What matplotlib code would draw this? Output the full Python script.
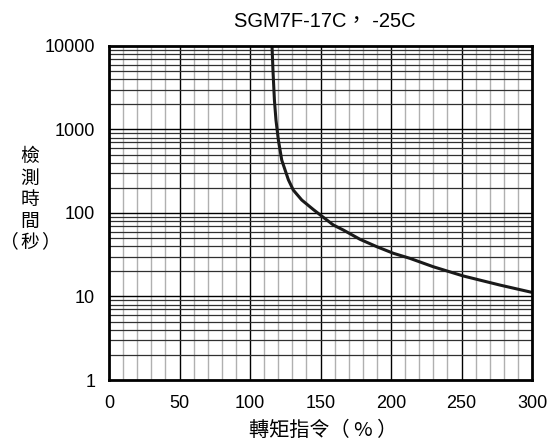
import matplotlib.pyplot as plt
from matplotlib.ticker import FixedLocator, LogLocator, NullFormatter

plt.rcParams['font.family'] = ['Liberation Sans', 'Noto Sans CJK TC', 'DejaVu Sans']
CJK = ['Noto Sans CJK TC', 'Liberation Sans']

# torque command (%) vs detection time (s)
torque = [115.6, 116.3, 117.3, 118.4, 120.1, 122.5, 127.2, 130.7, 136.7, 144.9, 150.8,
          159, 166.2, 178, 189.9, 201.7, 213.5, 230, 251.3, 277.3, 300]
seconds = [10000, 5000, 2250, 1300, 750, 430, 250, 188, 143, 110, 92,
           72, 62.5, 48.4, 39.5, 32.9, 28.6, 22.7, 17.6, 13.7, 11.2]

x_ticks = [0, 50, 100, 150, 200, 250, 300]
y_ticks = [1, 10, 100, 1000, 10000]
y_tick_labels = ['1', '10', '100', '1000', '10000']

fig = plt.figure(figsize=(5.52, 4.43), dpi=100)
ax = fig.add_axes([0.1975, 0.1422, 0.7663, 0.754])

ax.set_yscale('log')
ax.set_xlim(0, 300)
ax.set_ylim(1, 10000)

# grid: gray minor verticals, black majors, dark log-minor horizontals
for x in range(10, 300, 10):
    if x % 50:
        ax.axvline(x, color='#b0b0b0', lw=1.0, zorder=1)
for x in x_ticks[1:-1]:
    ax.axvline(x, color='black', lw=1.0, zorder=2)
for dec in [1, 10, 100, 1000]:
    for m in range(2, 10):
        ax.axhline(dec * m, color='#303030', lw=0.9, zorder=2)
for y in y_ticks[1:-1]:
    ax.axhline(y, color='black', lw=1.0, zorder=2)

ax.plot(torque, seconds, color='#1a1a1a', lw=2.2, zorder=3,
        solid_capstyle='butt', solid_joinstyle='round')

ax.xaxis.set_major_locator(FixedLocator(x_ticks))
ax.yaxis.set_major_locator(FixedLocator(y_ticks))
ax.set_yticklabels(y_tick_labels)
ax.yaxis.set_minor_locator(LogLocator(subs='all'))
ax.yaxis.set_minor_formatter(NullFormatter())
ax.tick_params(which='both', length=0)
ax.tick_params(axis='x', labelsize=13, pad=11)
ax.tick_params(axis='y', labelsize=13, pad=10)

for s in ax.spines.values():
    s.set_linewidth(2)
    s.set_zorder(4)

fig.text(0.589, 0.951, 'SGM7F-17C， -25C', fontsize=14.5, ha='center', va='center')
fig.text(0.586, 0.029, '轉矩指令（ % ）', fontsize=14.5, ha='center', va='center', family=CJK)

# vertical y label, with the unit row spread out underneath
fig.text(0.0543, 0.5734, '檢\n測\n時\n間', fontsize=13.5, ha='center', va='center',
         linespacing=1.05, family=CJK)
fig.text(0.0344, 0.4537, '（', fontsize=13.5, ha='right', va='center', family=CJK)
fig.text(0.0543, 0.4537, '秒', fontsize=13.5, ha='center', va='center', family=CJK)
fig.text(0.0743, 0.4537, '）', fontsize=13.5, ha='left', va='center', family=CJK)

fig.savefig('out.png', dpi=100)
